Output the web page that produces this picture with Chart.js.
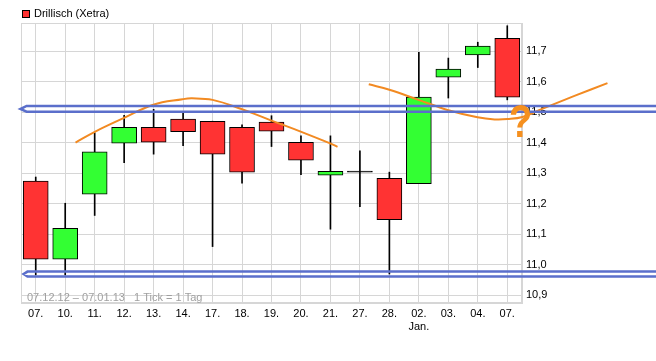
<!DOCTYPE html>
<html>
<head>
<meta charset="utf-8">
<script src="https://cdn.jsdelivr.net/npm/chart.js@4.4.1/dist/chart.umd.min.js"></script>
<style>
  html, body { margin: 0; padding: 0; background: #fff; }
  #wrap { width: 656px; height: 361px; }
</style>
</head>
<body>
<div id="wrap"><canvas id="kurs"></canvas></div>
<script>
// Drillisch (Xetra), 07.12.12 - 07.01.13, daily candles
var days   = ['07.', '10.', '11.', '12.', '13.', '14.', '17.', '18.', '19.', '20.', '21.', '27.', '28.', ['02.', 'Jan.'], '03.', '04.', '07.'];
var opens  = [11.275, 11.019, 11.232, 11.399, 11.451, 11.478, 11.471, 11.451, 11.468, 11.402, 11.294, 11.304, 11.284, 11.266, 11.615, 11.688, 11.743];
var highs  = [11.288, 11.202, 11.433, 11.490, 11.510, 11.497, 11.471, 11.459, 11.489, 11.423, 11.423, 11.374, 11.304, 11.697, 11.678, 11.730, 11.784];
var lows   = [10.967, 10.967, 11.162, 11.335, 11.363, 11.391, 11.060, 11.268, 11.388, 11.296, 11.117, 11.191, 10.970, 11.266, 11.547, 11.647, 11.541];
var closes = [11.019, 11.120, 11.371, 11.451, 11.402, 11.437, 11.363, 11.304, 11.438, 11.343, 11.307, 11.304, 11.148, 11.550, 11.642, 11.717, 11.550];

// hand drawn marks (x in candle index units, y in price)
var arcLeftX  = [1.35, 2.02, 2.98, 3.99, 4.98, 5.3, 6.0, 6.98, 8.0, 8.99, 9.97, 10.24];
var arcLeftY  = [11.401, 11.437, 11.481, 11.525, 11.543, 11.546, 11.541, 11.511, 11.473, 11.437, 11.399, 11.387];
// drawn right to left, it runs past the last candle
var arcRightX = [19.40, 18.28, 17.1, 16.52, 16.01, 15.57, 14.99, 13.97, 12.99, 12.0, 11.30];
var arcRightY = [11.596, 11.554, 11.508, 11.485, 11.478, 11.477, 11.484, 11.508, 11.541, 11.574, 11.592];
var upperBandX = [21.2, -0.31, -0.52, -0.31, 21.2];
var upperBandY = [11.521, 11.521, 11.511, 11.502, 11.502];
var lowerBandX = [21.2, -0.28, -0.41, -0.28, 21.2];
var lowerBandY = [10.978, 10.978, 10.970, 10.962, 10.962];
var questionAt = [16.45, 11.459];

var title = 'Drillisch (Xetra)';
var footer = '07.12.12 \u2013 07.01.13   1 Tick = 1 Tag';

function pts(xs, ys) {
  return xs.map(function (x, i) { return { x: x, y: ys[i] }; });
}

var bodies = opens.map(function (o, i) { return [o, closes[i]]; });
var wicks = lows.map(function (l, i) { return [l, highs[i]]; });
var bodyColors = opens.map(function (o, i) {
  if (closes[i] > o) return '#33ff33';
  if (closes[i] < o) return '#ff3333';
  return '#000000';
});

var FONT = '"Liberation Sans", Arial, sans-serif';

var extras = {
  id: 'extras',
  beforeDatasetsDraw: function (chart) {
    var ctx = chart.ctx, a = chart.chartArea;
    ctx.save();
    ctx.strokeStyle = '#d6d6d6';
    ctx.lineWidth = 1;
    ctx.strokeRect(Math.round(a.left) + 0.5, Math.round(a.top) + 0.5, Math.round(a.width) - 1, Math.round(a.height) - 1);
    ctx.font = '11px ' + FONT;
    ctx.textBaseline = 'middle';
    ctx.fillStyle = '#a0a0a0';
    ctx.fillText(footer, a.left + 6, a.bottom - 5);
    // legend entry
    ctx.fillStyle = '#ff3333';
    ctx.fillRect(a.left + 1, a.top - 13, 8, 8);
    ctx.strokeStyle = '#000';
    ctx.strokeRect(a.left + 1.5, a.top - 12.5, 7, 7);
    ctx.fillStyle = '#000';
    ctx.fillText(title, a.left + 13, a.top - 9);
    ctx.restore();
  },
  afterDatasetsDraw: function (chart) {
    var ctx = chart.ctx;
    var x = chart.scales.xa.getPixelForValue(questionAt[0]);
    var y = chart.scales.y.getPixelForValue(questionAt[1]);
    ctx.save();
    ctx.translate(x, y);
    ctx.scale(1, 1.2);
    ctx.fillStyle = '#f5901f';
    ctx.font = 'bold 38px ' + FONT;
    ctx.textAlign = 'center';
    ctx.textBaseline = 'middle';
    ctx.fillText('?', 0, 0);
    ctx.restore();
  }
};

var mark = function (label, xs, ys, color, width, tension) {
  return {
    type: 'line',
    label: label,
    data: pts(xs, ys),
    xAxisID: 'xa',
    yAxisID: 'y',
    borderColor: color,
    borderWidth: width,
    pointRadius: 0,
    tension: tension,
    clip: false,
    order: -1
  };
};

var ctx = document.getElementById('kurs').getContext('2d');
var chart = new Chart(ctx, {
  type: 'bar',
  data: {
    labels: days,
    datasets: [{
      label: title,
      data: bodies,
      backgroundColor: bodyColors,
      borderColor: '#000',
      borderWidth: 1,
      borderSkipped: false,
      barThickness: 25,
      minBarLength: 1,
      grouped: false,
      order: 0
    }, {
      label: 'wick',
      data: wicks,
      backgroundColor: '#000',
      borderWidth: 0,
      barThickness: 1,
      grouped: false,
      order: 1
    },
    mark('bandUp', upperBandX, upperBandY, '#5b6fcb', 2.5, 0),
    mark('bandDown', lowerBandX, lowerBandY, '#5b6fcb', 2.5, 0),
    mark('arcLeft', arcLeftX, arcLeftY, '#f28a22', 2, 0.4),
    mark('arcRight', arcRightX, arcRightY, '#f28a22', 2, 0.4)
    ]
  },
  options: {
    responsive: true,
    maintainAspectRatio: false,
    animation: false,
    layout: { padding: { top: 23, left: 21, right: 0, bottom: 0 } },
    plugins: {
      tooltip: { enabled: false },
      legend: { display: false }
    },
    scales: {
      x: {
        type: 'category',
        offset: true,
        grid: { offset: false, color: '#d6d6d6', drawTicks: false },
        border: { color: '#d6d6d6' },
        ticks: {
          color: '#000',
          padding: 4,
          maxRotation: 0,
          autoSkip: false,
          font: { family: FONT, size: 11 }
        },
        afterFit: function (s) { s.height = 58; }
      },
      xa: {
        type: 'linear',
        display: false,
        offset: false,
        min: -0.5,
        max: 16.5
      },
      y: {
        position: 'right',
        min: 10.875,
        max: 11.793,
        grid: { color: '#d6d6d6', drawTicks: false },
        border: { color: '#d6d6d6' },
        ticks: {
          stepSize: 0.1,
          includeBounds: false,
          padding: 4,
          color: '#000',
          font: { family: FONT, size: 11 },
          callback: function (v) { return v.toFixed(1).replace('.', ','); }
        },
        afterFit: function (s) { s.width = 134; }
      }
    }
  },
  plugins: [extras]
});
</script>
</body>
</html>
